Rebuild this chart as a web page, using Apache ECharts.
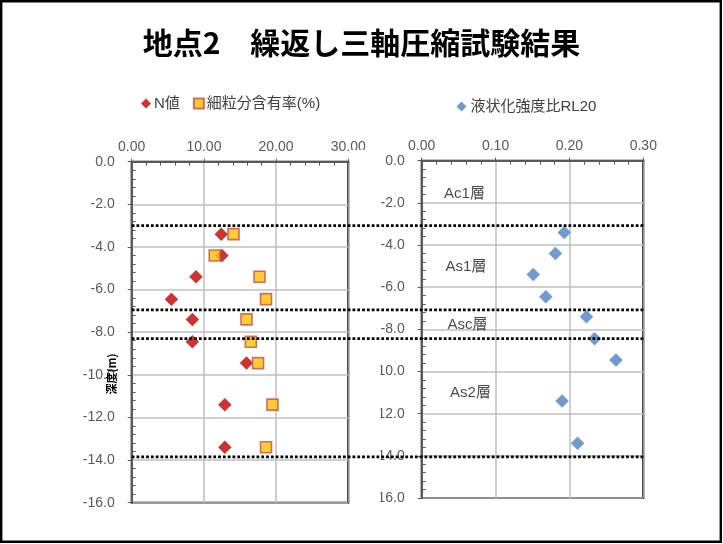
<!DOCTYPE html>
<html>
<head>
<meta charset="utf-8">
<script src="https://cdn.jsdelivr.net/npm/echarts@6.0.0/dist/echarts.min.js"></script>
<style>
  html, body { margin: 0; padding: 0; background: #ffffff; }
  #chart { width: 723px; height: 544px; }
</style>
</head>
<body>
<div id="chart"></div>
<script>
// Sample depths (m, negative downward)
const depths = [-3.4, -4.4, -5.4, -6.45, -7.4, -8.45, -9.45, -11.4, -13.4];
// SPT N value
const nValues = [12.4, 12.5, 8.9, 5.5, 8.4, 8.4, 15.9, 12.9, 12.9];
// Fines content (%)
const finesContent = [14.1, 11.5, 17.7, 18.6, 15.9, 16.5, 17.5, 19.5, 18.6];
// Cyclic strength ratio RL20
const rl20 = [0.193, 0.181, 0.151, 0.168, 0.223, 0.234, 0.263, 0.190, 0.211];
// Layer boundaries (m)
const layerBoundaries = [-3.0, -6.95, -8.3, -13.85];
// Layer names
const layerNames = ['Ac1層', 'As1層', 'Asc層', 'As2層'];

const titleText = '地点2　繰返し三軸圧縮試験結果';
const depthAxisName = '深度(m)';
const nName = 'N値';
const finesName = '細粒分含有率(%)';
const rlName = '液状化強度比RL20';

const AXIS = '#595959';
const GRIDLINE = '#BFBFBF';
const FONT = '"Liberation Sans", "Noto Sans CJK JP", sans-serif';

const chart = echarts.init(document.getElementById('chart'), null, { renderer: 'canvas' });

function valueAxis(gridIndex, extra) {
  return Object.assign({
    gridIndex: gridIndex,
    type: 'value',
    axisLine: { show: true, onZero: false, lineStyle: { color: AXIS, width: 2 } },
    axisTick: { show: true, length: 4, lineStyle: { color: AXIS, width: 1 } },
    minorTick: { show: true, splitNumber: 5, length: -4, lineStyle: { color: AXIS, width: 1 } },
    splitLine: { show: true, lineStyle: { color: GRIDLINE, width: 1.5 } },
    minorSplitLine: { show: false }
  }, extra);
}

const depthAxis = (gridIndex) => valueAxis(gridIndex, {
  min: -16, max: 0, interval: 2,
  axisLabel: { formatter: v => v.toFixed(1), color: AXIS, fontSize: 14, fontFamily: FONT, margin: 17 }
});

// Layer label placement in the right panel (x in RL20 units, y in depth)
const layerLabelX = [0.058, 0.060, 0.062, 0.066];
const layerLabelY = [-1.55, -5.05, -7.8, -11.0];

const boundarySeries = layerBoundaries.map((d, i) => ({
  name: 'boundary' + i,
  type: 'line',
  xAxisIndex: 2,
  yAxisIndex: 2,
  data: [[0, d], [1, d]],
  symbol: 'none',
  silent: true,
  z: 6,
  lineStyle: { color: '#000000', width: 2.8, type: [2.8, 2.0], cap: 'butt' }
}));

const option = {
  animation: false,
  backgroundColor: '#ffffff',
  grid: [
    { left: 131.7, top: 161.7, width: 216.6, height: 341, show: true, borderColor: '#000000', borderWidth: 2, containLabel: false },
    { left: 421.7, top: 160.7, width: 221.6, height: 337.3, show: true, borderColor: '#000000', borderWidth: 2, containLabel: false },
    { left: 131.7, top: 161.7, width: 511.6, height: 341, show: false, containLabel: false }
  ],
  xAxis: [
    valueAxis(0, {
      position: 'top', min: 0, max: 30, interval: 10,
      axisTick: { show: true, length: 3, lineStyle: { color: AXIS, width: 1 } },
      axisLabel: { formatter: v => v.toFixed(2), color: AXIS, fontSize: 14, fontFamily: FONT, margin: 8 }
    }),
    valueAxis(1, {
      position: 'top', min: 0, max: 0.3, interval: 0.1,
      axisTick: { show: true, length: 3, lineStyle: { color: AXIS, width: 1 } },
      axisLabel: { formatter: v => v.toFixed(2), color: AXIS, fontSize: 14, fontFamily: FONT, margin: 8 }
    }),
    { gridIndex: 2, type: 'value', min: 0, max: 1, show: false }
  ],
  yAxis: [
    depthAxis(0),
    depthAxis(1),
    { gridIndex: 2, type: 'value', min: -16, max: 0, show: false }
  ],
  legend: [
    {
      data: [nName, finesName],
      left: 136, top: 91,
      itemWidth: 10, itemHeight: 10, itemGap: 13,
      textStyle: { fontSize: 15, color: '#404040', fontFamily: FONT, padding: [0, 0, 0, -2] }
    },
    {
      data: [rlName],
      left: 451.5, top: 94,
      itemWidth: 10, itemHeight: 10,
      textStyle: { fontSize: 15, color: '#404040', fontFamily: FONT, padding: [0, 0, 0, -1] }
    }
  ],
  series: [
    {
      name: nName, type: 'scatter', xAxisIndex: 0, yAxisIndex: 0,
      symbol: 'diamond', symbolSize: 13.5,
      itemStyle: { color: '#C00000' },
      data: depths.map((d, i) => [nValues[i], d]),
      z: 3
    },
    {
      name: finesName, type: 'scatter', xAxisIndex: 0, yAxisIndex: 0,
      symbol: 'rect', symbolSize: 11,
      itemStyle: { color: '#FFC000', borderColor: '#C0504D', borderWidth: 1.6 },
      data: depths.map((d, i) => [finesContent[i], d]),
      z: 4
    },
    {
      name: rlName, type: 'scatter', xAxisIndex: 1, yAxisIndex: 1,
      symbol: 'diamond', symbolSize: 13.5,
      itemStyle: { color: '#4F81BD' },
      data: depths.map((d, i) => [rl20[i], d]),
      z: 3
    },
    {
      name: 'layers', type: 'scatter', xAxisIndex: 1, yAxisIndex: 1,
      symbolSize: 0, silent: true, z: 7,
      data: layerNames.map((n, i) => ({ name: n, value: [layerLabelX[i], layerLabelY[i]] })),
      label: {
        show: true, position: 'inside', formatter: p => p.name,
        fontSize: 15, color: '#1a1a1a', fontFamily: FONT
      }
    }
  ].concat(boundarySeries),
  graphic: [
    {
      type: 'text', left: 'center', top: 28, z: 10,
      style: {
        text: titleText, fill: '#000000',
        font: 'bold 30px "Noto Sans CJK JP", sans-serif'
      }
    },
    {
      type: 'text', x: 112, y: 374, rotation: Math.PI / 2, z: 10,
      style: {
        text: depthAxisName, fill: '#000000',
        font: 'bold 11px "Noto Sans CJK JP", sans-serif',
        align: 'center', verticalAlign: 'middle'
      }
    },
    {
      // white backing of the left panel, clipping the right panel's long depth labels
      type: 'rect', z: 1,
      shape: { x: 351, y: 150, width: 29.5, height: 360 },
      style: { fill: '#ffffff' }
    },
    {
      type: 'rect', z: 20,
      shape: { x: 1.2, y: 1.2, width: 719.6, height: 540.6 },
      style: { fill: 'none', stroke: '#000000', lineWidth: 2.4 }
    }
  ]
};

chart.setOption(option);
</script>
</body>
</html>
